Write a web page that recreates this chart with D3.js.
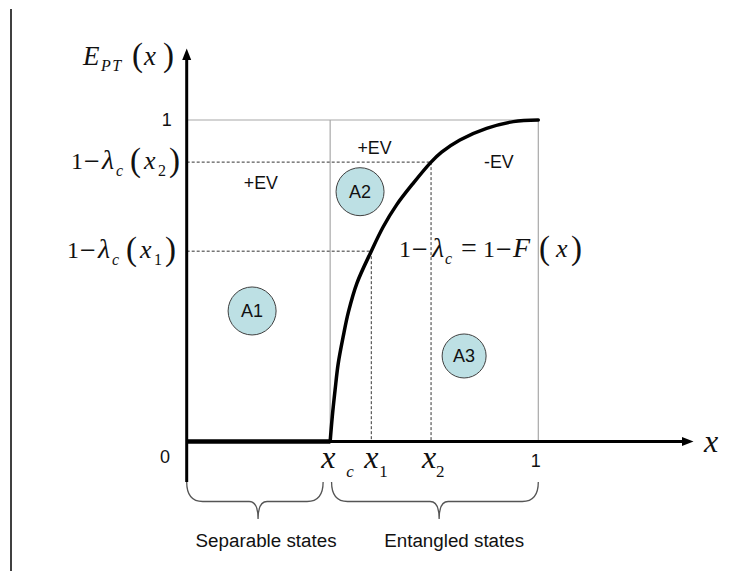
<!DOCTYPE html>
<html>
<head>
<meta charset="utf-8">
<script src="https://cdn.jsdelivr.net/npm/d3@7"></script>
<style>
  body { margin: 0; background: #fff; }
  svg { display: block; }
</style>
</head>
<body>
<svg id="chart" width="755" height="571"></svg>
<script>
// Critical point x_c and two sample points on the entangled branch
const xc = 0.408, x1 = 0.525, x2 = 0.695;
// 1 - lambda_c at x1 and x2
const level1 = 0.592, level2 = 0.869;

// E_PT(x) along the entangled branch (x >= x_c)
const curveX = [0.408, 0.414, 0.422, 0.431, 0.445, 0.460, 0.484, 0.525, 0.559, 0.597, 0.644, 0.695, 0.725, 0.777, 0.853, 0.929, 1.000];
const curveE = [0.000, 0.077, 0.160, 0.243, 0.326, 0.403, 0.492, 0.592, 0.668, 0.736, 0.803, 0.869, 0.900, 0.938, 0.974, 0.995, 1.000];
// Separable branch: E_PT = 0 on [0, x_c]
const flatX = [0, 0.408];
const flatE = [0, 0];

// Region markers
const regionNames = ["A1", "A2", "A3"];
const regionX = [0.186, 0.493, 0.789];
const regionE = [0.406, 0.777, 0.266];
const regionR = [24, 24, 22];

// Expected-value sign labels
const evLabels = ["+EV", "+EV", "-EV"];
const evX = [0.211, 0.534, 0.888];
const evE = [0.785, 0.893, 0.850];

// State-class braces under the x axis
const braceLabels = ["Separable states", "Entangled states"];
const braceFrom = [0, 0.412];
const braceTo = [0.388, 1];
const braceTip = [0.203, 0.718];

const svg = d3.select("#chart");
const W = 755, H = 571;

const x = d3.scaleLinear().domain([0, 1]).range([186.7, 538.3]);
const y = d3.scaleLinear().domain([0, 1]).range([441.5, 120]);

const SANS = "Arial, 'Liberation Sans', sans-serif";
const SERIF = "'Liberation Serif', 'Times New Roman', serif";
const WIDE = "'DejaVu Serif', serif";

// Left border rule
svg.append("line")
  .attr("x1", 11).attr("x2", 11).attr("y1", 9).attr("y2", H)
  .attr("stroke", "#000").attr("stroke-width", 1.5);

// Light frame: E = 1, x = x_c, x = 1
const frame = svg.append("g").attr("stroke", "#a8a8a8").attr("stroke-width", 1.2).attr("fill", "none");
frame.append("line").attr("x1", x(0)).attr("x2", x(1)).attr("y1", y(1)).attr("y2", y(1));
frame.append("line").attr("x1", x(xc)).attr("x2", x(xc)).attr("y1", y(0)).attr("y2", y(1));
frame.append("line").attr("x1", x(1)).attr("x2", x(1)).attr("y1", y(0)).attr("y2", y(1));

// Dashed guides for x1 and x2
const guides = svg.append("g").attr("stroke", "#333").attr("stroke-width", 1)
  .attr("stroke-dasharray", "3,2").attr("fill", "none");
[[x1, level1], [x2, level2]].forEach(([px, lv]) => {
  guides.append("line").attr("x1", x(0)).attr("x2", x(px)).attr("y1", y(lv)).attr("y2", y(lv));
  guides.append("line").attr("x1", x(px)).attr("x2", x(px)).attr("y1", y(lv)).attr("y2", y(0));
});

// Region circles
const regions = svg.append("g");
regionNames.forEach((name, i) => {
  const g = regions.append("g").attr("transform", `translate(${x(regionX[i])},${y(regionE[i])})`);
  g.append("circle").attr("r", regionR[i]).attr("fill", "#bde0e4")
    .attr("stroke", "#404040").attr("stroke-width", 1);
  g.append("text").text(name).attr("text-anchor", "middle").attr("dy", "0.36em")
    .attr("font-family", SANS).attr("font-size", 18).attr("fill", "#111");
});

// EV labels
evLabels.forEach((t, i) => {
  svg.append("text").text(t)
    .attr("x", x(evX[i])).attr("y", y(evE[i]))
    .attr("text-anchor", "middle")
    .attr("font-family", SANS).attr("font-size", 17.8).attr("fill", "#111");
});

// Axes: x axis line with arrow
const axisG = svg.append("g");
axisG.append("line")
  .attr("x1", x(0)).attr("x2", 685).attr("y1", y(0)).attr("y2", y(0))
  .attr("stroke", "#000").attr("stroke-width", 3);
axisG.append("path")
  .attr("d", `M693.5,${y(0)} L682,${y(0) - 4.5} L682,${y(0) + 4.5} Z`)
  .attr("fill", "#000");
// y axis line (extends down to the braces) with arrow
axisG.append("line")
  .attr("x1", x(0)).attr("x2", x(0)).attr("y1", 482).attr("y2", 58)
  .attr("stroke", "#000").attr("stroke-width", 3);
axisG.append("path")
  .attr("d", `M${x(0)},48.5 L${x(0) - 4.5},60 L${x(0) + 4.5},60 Z`)
  .attr("fill", "#000");

// Tick labels
const yAxis = svg.append("g").attr("transform", `translate(${x(0)},0)`)
  .call(d3.axisLeft(y).tickValues([1]).tickSize(0).tickPadding(15).tickFormat(d3.format("d")));
const xAxis = svg.append("g").attr("transform", `translate(0,${y(0)})`)
  .call(d3.axisBottom(x).tickValues([1]).tickSize(0).tickPadding(13).tickFormat(d3.format("d")));
[yAxis, xAxis].forEach(a => {
  a.select(".domain").remove();
  a.selectAll("text").attr("font-family", SANS).attr("font-size", 18).attr("fill", "#111");
});
xAxis.selectAll("text").attr("dx", -3);
svg.append("text").text("0").attr("x", 165).attr("y", 463).attr("text-anchor", "middle")
  .attr("font-family", SANS).attr("font-size", 18).attr("fill", "#111");

// E_PT curves
const flatLine = d3.line().x(d => x(d[0])).y(d => y(d[1]));
const curveLine = d3.line().x(d => x(d[0])).y(d => y(d[1])).curve(d3.curveCatmullRom.alpha(0.5));
svg.append("path")
  .attr("d", flatLine(flatX.map((v, i) => [v, flatE[i]])))
  .attr("fill", "none").attr("stroke", "#000").attr("stroke-width", 4.5);
svg.append("path")
  .attr("d", curveLine(curveX.map((v, i) => [v, curveE[i]])))
  .attr("fill", "none").attr("stroke", "#000").attr("stroke-width", 3.5)
  .attr("stroke-linecap", "round");

// Braces and their captions
const yTop = 482, yMid = 501.5, yTip = 519;
braceLabels.forEach((lab, i) => {
  const a = x(braceFrom[i]), b = x(braceTo[i]), m = x(braceTip[i]);
  const r = 16, rt = 9;
  const d = `M${a},${yTop} Q${a},${yMid} ${a + r},${yMid} L${m - rt},${yMid} ` +
            `Q${m},${yMid} ${m},${yTip} Q${m},${yMid} ${m + rt},${yMid} ` +
            `L${b - r},${yMid} Q${b},${yMid} ${b},${yTop}`;
  svg.append("path").attr("d", d).attr("fill", "none")
    .attr("stroke", "#555").attr("stroke-width", 1.3);
  svg.append("text").text(lab)
    .attr("x", m + (i === 0 ? 8 : 15)).attr("y", 547)
    .attr("text-anchor", "middle")
    .attr("font-family", SANS).attr("font-size", 18.8).attr("fill", "#111");
});

// Math-style labels built from positioned pieces: [text, dx, dy, size, italic, spacing, family]
function mathLabel(x0, base, pieces) {
  const t = svg.append("text").attr("font-family", SERIF).attr("fill", "#111");
  pieces.forEach(p => {
    const s = t.append("tspan")
      .attr("x", x0 + p[1]).attr("y", base + p[2])
      .attr("font-size", p[3])
      .attr("font-style", p[4] ? "italic" : "normal")
      .text(p[0]);
    if (p[5]) s.attr("letter-spacing", p[5]);
    if (p[6]) s.attr("font-family", p[6]);
  });
  return t;
}
const MINUS = "\u2212", LAMBDA = "\u03BB";

// E_PT(x) axis title
mathLabel(83, 65, [
  ["E", 0, 0, 27, true],
  ["PT", 18, 6, 16, true, 1.5],
  ["(", 49, 1, 33, false],
  ["x", 61, 0, 27, true],
  [")", 80, 1, 33, false]
]);

// 1 − λc(x_i) tick labels on the y axis
function lambdaLabel(x0, lv, sub) {
  const b = y(lv) + 7;
  mathLabel(x0, b, [
    ["1", 0, 0, 24, false],
    [MINUS, 12, -1, 21, false, 0, WIDE],
    [LAMBDA, 31, 0, 28, true],
    ["c", 45, 7, 16, true],
    ["(", 59, 2, 33, false],
    ["x", 73, 0, 26, true],
    [sub, 87, 7, 16, false],
    [")", 98, 2, 33, false]
  ]);
}
lambdaLabel(71, level2, "2");
lambdaLabel(67, level1, "1");

// 1 − λc = 1 − F(x) curve label
mathLabel(399, 257, [
  ["1", 0, 0, 24, false],
  [MINUS, 12, -1, 21, false, 0, WIDE],
  [LAMBDA, 33, 0, 28, true],
  ["c", 46, 7, 16, true],
  ["=", 62, 0, 28, false],
  ["1", 84, 0, 24, false],
  [MINUS, 96, -1, 21, false, 0, WIDE],
  ["F", 114, 0, 28, true],
  ["(", 140, 2, 33, false],
  ["x", 157, 0, 26, true],
  [")", 172, 2, 33, false]
]);

// x-axis point labels
mathLabel(x(xc) - 9, 468, [["x", 0, 0, 32, true], ["c", 25, 9, 17, true]]);
mathLabel(x(x1) - 7, 468, [["x", 0, 0, 32, true], ["1", 15, 9, 17, false]]);
mathLabel(x(x2) - 9, 468, [["x", 0, 0, 32, true], ["2", 14, 9, 17, false]]);
// x axis title
mathLabel(704, 452, [["x", 0, 0, 32, true]]);
</script>
</body>
</html>
